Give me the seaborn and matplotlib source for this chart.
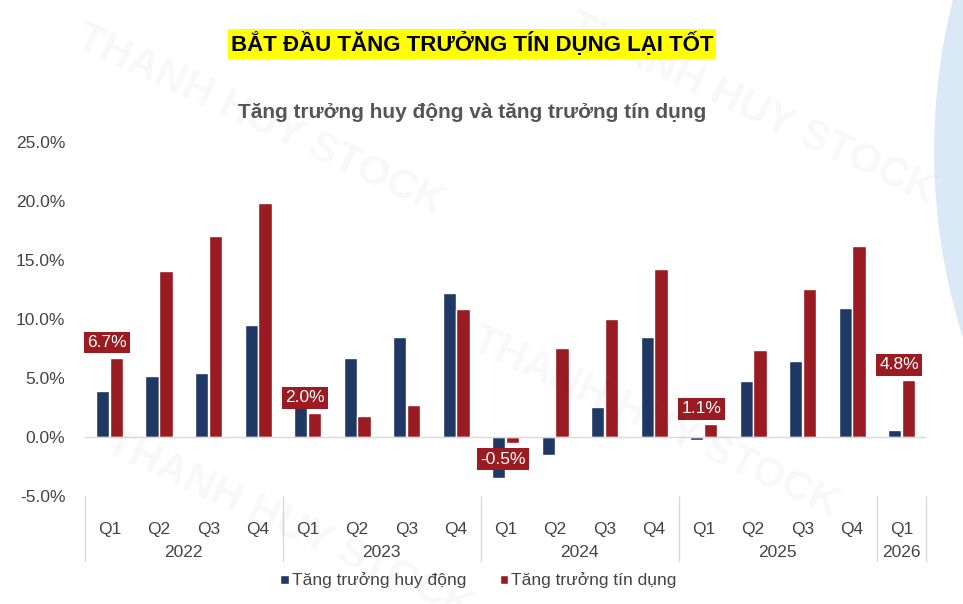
import pandas as pd
import numpy as np
import seaborn as sns
import matplotlib.pyplot as plt
from matplotlib.transforms import blended_transform_factory
from matplotlib.patches import Ellipse

quarters = ['Q1', 'Q2', 'Q3', 'Q4'] * 4 + ['Q1']
years = ['2022'] * 4 + ['2023'] * 4 + ['2024'] * 4 + ['2025'] * 4 + ['2026']
huy_dong = [3.9, 5.2, 5.4, 9.5, 2.5, 6.7, 8.5, 12.2, -3.5, -1.5, 2.5, 8.5, -0.3, 4.7, 6.4, 10.9, 0.6]
tin_dung = [6.7, 14.1, 17.0, 19.8, 2.0, 1.8, 2.7, 10.8, -0.5, 7.5, 10.0, 14.2, 1.1, 7.4, 12.5, 16.2, 4.8]
labelled = [0, 4, 8, 12, 16]

s1 = 'Tăng trưởng huy động'
s2 = 'Tăng trưởng tín dụng'
keys = [f'{y}-{q}' for y, q in zip(years, quarters)]
df = pd.DataFrame({'key': keys * 2,
                   'value': huy_dong + tin_dung,
                   'series': [s1] * 17 + [s2] * 17})

sns.set_style('white')
plt.rcParams['font.family'] = ['Liberation Sans', 'DejaVu Sans']

fig = plt.figure(figsize=(9.63, 6.04), dpi=100)
# light blue decoration at top right
fig.patches.append(Ellipse((1.52, 0.75), 1.1, 1.9, transform=fig.transFigure,
                           facecolor='#dbe9f7', edgecolor='none', zorder=0))
ax = fig.add_axes([0.088, 0.179, 0.874, 0.586])
ax.patch.set_alpha(0)

sns.barplot(data=df, x='key', y='value', hue='series', order=keys, saturation=1,
            palette=['#1f3864', '#9b1b22'], width=0.56, gap=0.05, ax=ax, legend=False)

ax.set_ylim(-5, 25)
ax.set_xlim(-0.5, 16.5)
ax.set_yticks(np.arange(-5, 26, 5))
ax.set_yticklabels([f'{v:.1f}%' for v in np.arange(-5, 26, 5)], fontsize=12.5, color='#444444')
ax.yaxis.set_tick_params(pad=14, length=0)
ax.set_xticks(range(17))
ax.set_xticklabels([])
ax.tick_params(axis='x', length=0)
ax.set_xlabel('')
ax.set_ylabel('')
for sp in ax.spines.values():
    sp.set_visible(False)
ax.axhline(0, color='#d9d9d9', lw=1)

tr = blended_transform_factory(ax.transData, ax.transAxes)
for i, q in enumerate(quarters):
    ax.text(i, -0.095, q, transform=tr, ha='center', va='center', fontsize=12.5, color='#444444')
bounds = [-0.5, 3.5, 7.5, 11.5, 15.5, 16.5]
for b in bounds:
    ax.plot([b, b], [0, -0.185], transform=tr, color='#d9d9d9', lw=1, clip_on=False)
for y, (a, b) in zip(['2022', '2023', '2024', '2025', '2026'], zip(bounds[:-1], bounds[1:])):
    ax.text((a + b) / 2, -0.16, y, transform=tr, ha='center', va='center', fontsize=12.5, color='#444444')

for i in labelled:
    v = tin_dung[i]
    off = 1.3 if v >= 0 else -1.4
    ax.text(i - 0.05, v + off, f'{v:.1f}%', ha='center', va='center', fontsize=12.5, color='white',
            bbox=dict(boxstyle='square,pad=0.2', facecolor='#9b1b22', edgecolor='none'))

# watermark
for (x, y) in [(0.27, 0.8), (0.78, 0.82), (0.3, 0.13), (0.68, 0.3)]:
    fig.text(x, y, 'THANH HUY STOCK', rotation=-25, fontsize=30, fontweight='bold',
             color='#000000', alpha=0.03, ha='center', va='center')

fig.text(0.49, 0.927, 'BẮT ĐẦU TĂNG TRƯỞNG TÍN DỤNG LẠI TỐT', ha='center', va='center',
         fontsize=16, fontweight='bold', color='black',
         bbox=dict(boxstyle='square,pad=0.12', facecolor='#ffff00', edgecolor='none'))
fig.text(0.49, 0.813, 'Tăng trưởng huy động và tăng trưởng tín dụng', ha='center', va='center',
         fontsize=15, fontweight='bold', color='#555555')

# legend
fig.patches.append(plt.Rectangle((0.291, 0.033), 0.009, 0.015, transform=fig.transFigure,
                                 facecolor='#1f3864'))
fig.text(0.303, 0.04, s1, va='center', fontsize=12.5, color='#444444')
fig.patches.append(plt.Rectangle((0.519, 0.033), 0.009, 0.015, transform=fig.transFigure,
                                 facecolor='#9b1b22'))
fig.text(0.531, 0.04, s2, va='center', fontsize=12.5, color='#444444')

fig.savefig('out.png', dpi=100)
